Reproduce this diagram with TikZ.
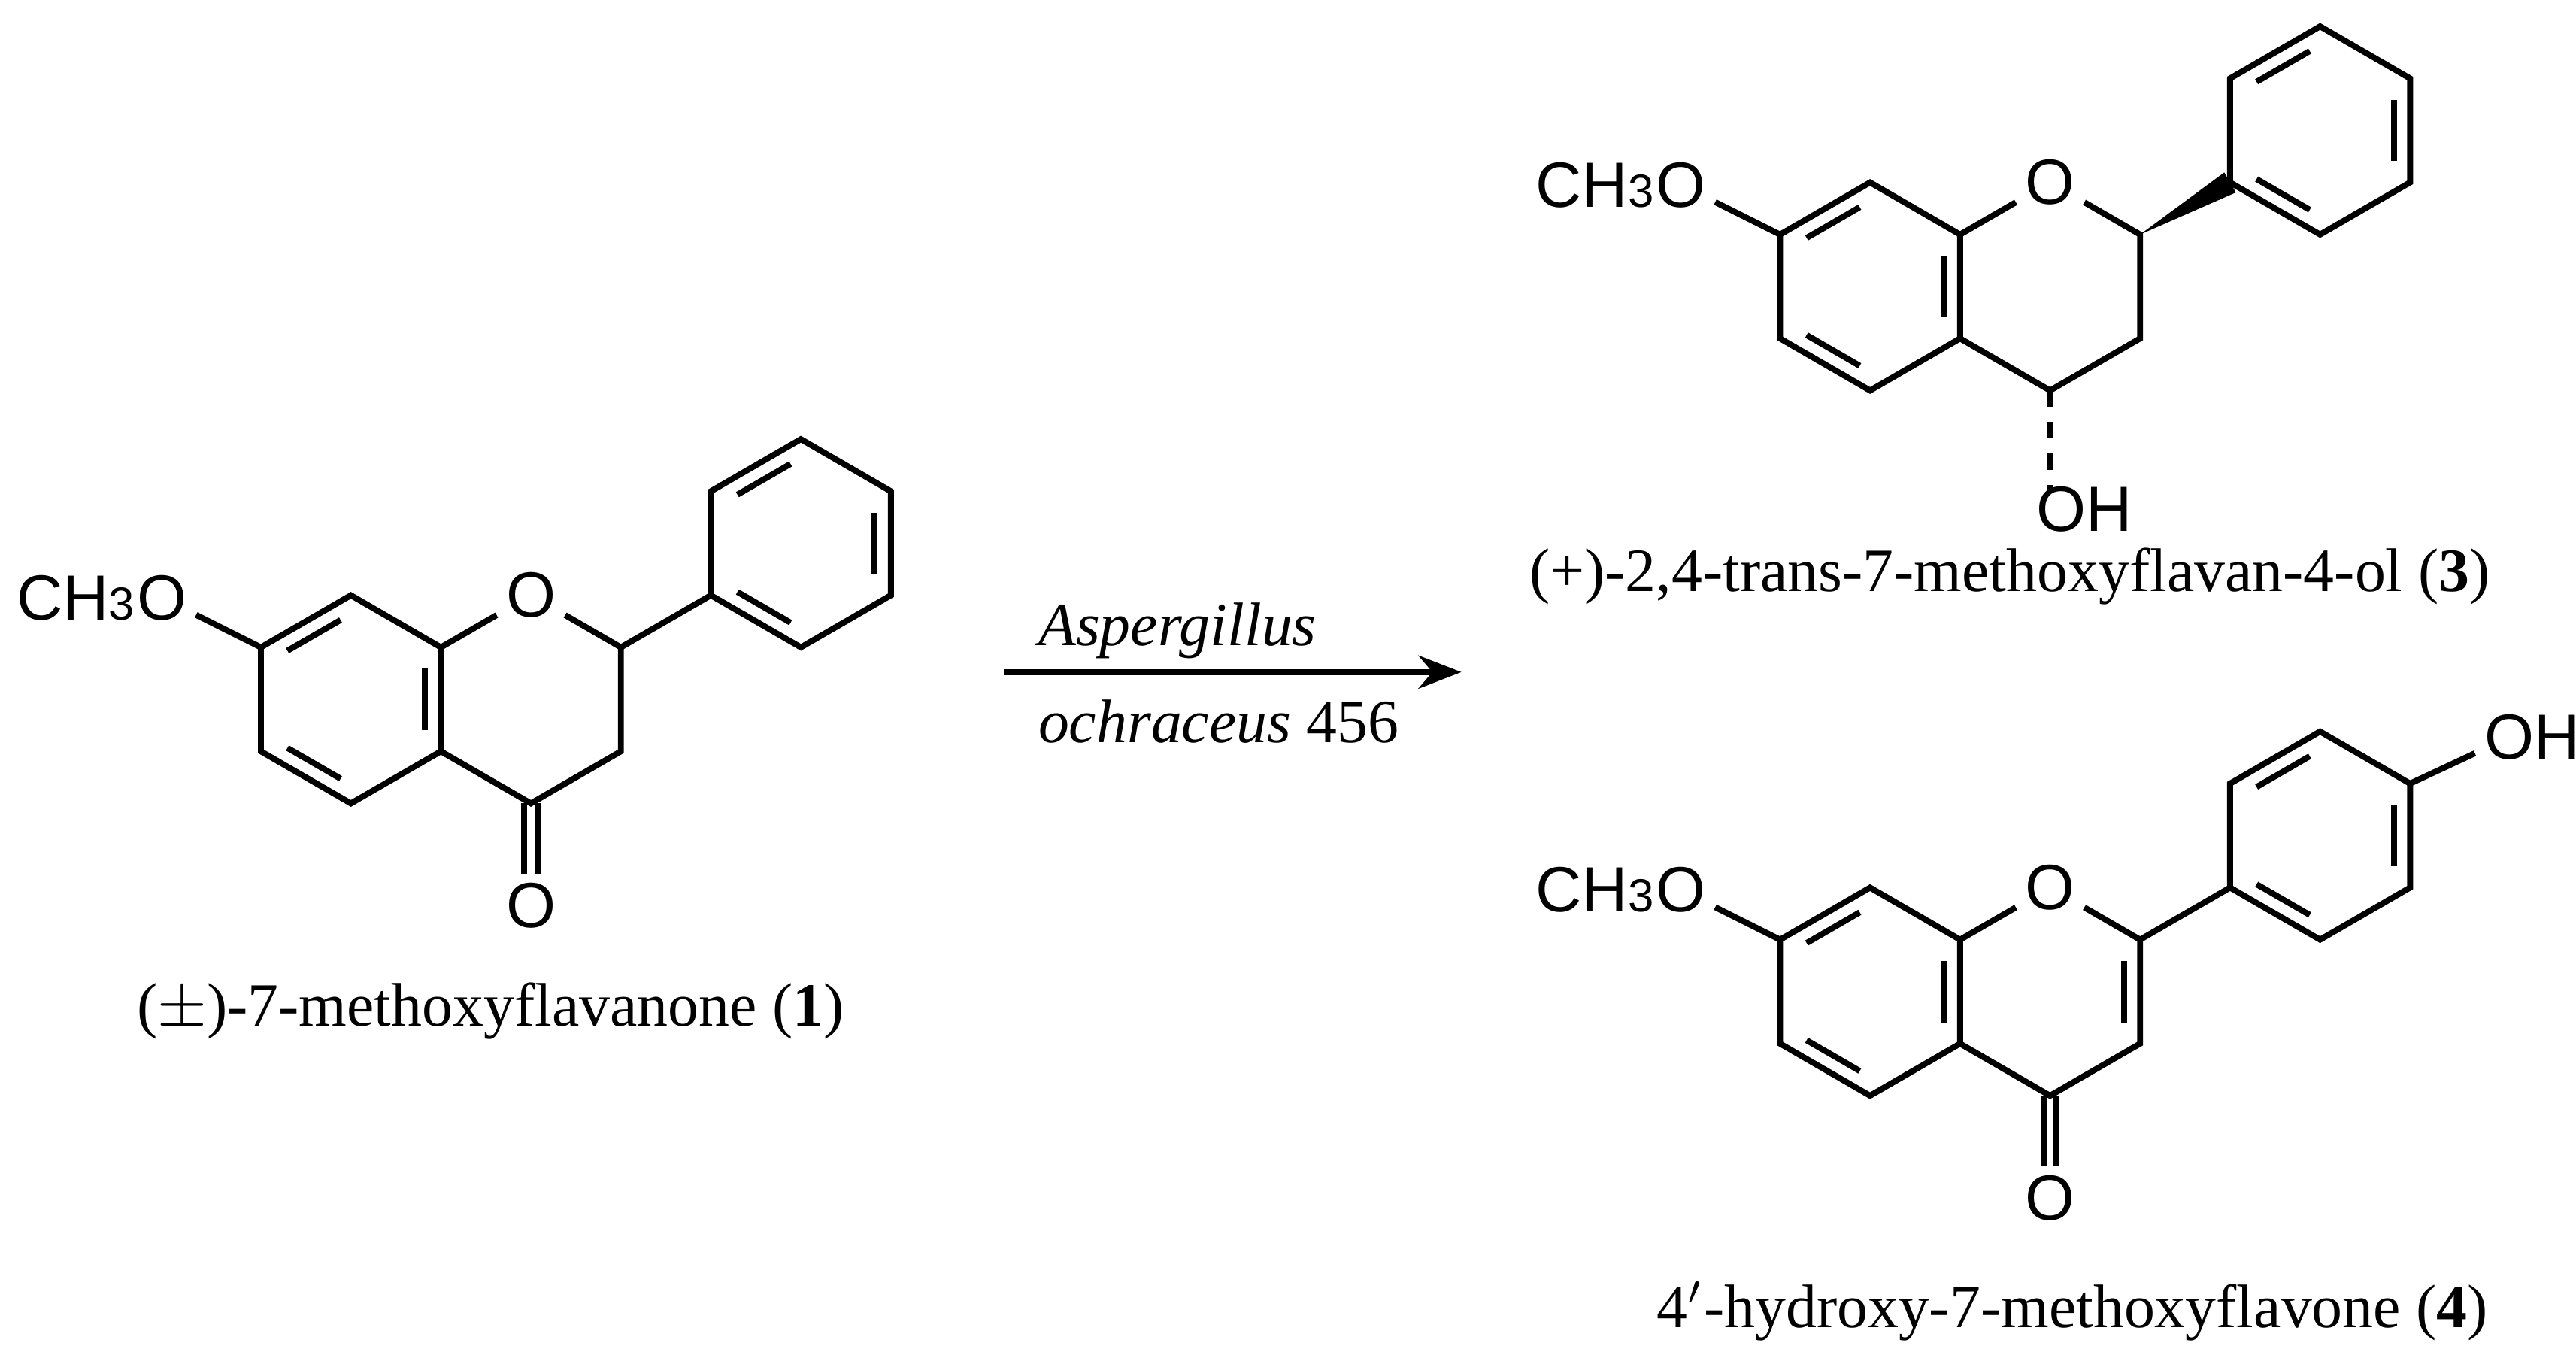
\documentclass[tikz,border=0pt]{standalone}
\usepackage{fontspec}
\setmainfont{Liberation Serif}
\newfontfamily\atomfont{Liberation Sans}
\usetikzlibrary{calc,arrows.meta}

\tikzset{
  bond/.style={line width=0.36mm},
  atom/.style={font=\atomfont\fontsize{11}{13}\selectfont,inner sep=0.5mm},
  caption/.style={font=\fontsize{10.6}{13}\selectfont,inner sep=0pt}
}
% skeleton of the flavan core: prefix, position of C7
\newcommand{\skel}[2]{%
  \begin{scope}[shift={#2}]
    \coordinate (#1c7) at (0,0);
    \coordinate (#1c8) at (54.5,-31.5);
    \coordinate (#1c8a) at (109,0);
    \coordinate (#1c4a) at (109,63);
    \coordinate (#1c5) at (54.5,94.5);
    \coordinate (#1c6) at (0,63);
    \coordinate (#1c2) at (218,0);
    \coordinate (#1c3) at (218,63);
    \coordinate (#1c4) at (163.5,94.5);
    \coordinate (#1p1) at (272.5,-31.5);
    \coordinate (#1p2) at (272.5,-94.5);
    \coordinate (#1p3) at (327,-126);
    \coordinate (#1p4) at (381.5,-94.5);
    \coordinate (#1p5) at (381.5,-31.5);
    \coordinate (#1p6) at (327,0);
    \coordinate (#1ca) at (54.5,31.5);
    \coordinate (#1cb) at (163.5,31.5);
    \coordinate (#1cp) at (327,-63);
    \node[atom] (#1o1) at (163.5,-31.5) {O};
    \node[atom] (#1o7) at (-60,-30) {O};
    \node[atom,anchor=east,inner sep=0pt] (#1me) at ([xshift=0.5mm]#1o7.west) {CH{\footnotesize 3}};
  \end{scope}
  \draw[bond] (#1o7) -- (#1c7);
  \draw[bond] (#1c7) -- (#1c8) -- (#1c8a) -- (#1c4a) -- (#1c5) -- (#1c6) -- cycle;
  \draw[bond] (#1c8a) -- (#1o1) -- (#1c2) -- (#1c3) -- (#1c4) -- (#1c4a);
  \draw[bond] (#1p1) -- (#1p2) -- (#1p3) -- (#1p4) -- (#1p5) -- (#1p6) -- cycle;
  \foreach \u/\v/\m in {c7/c8/ca,c8a/c4a/ca,c5/c6/ca,p2/p3/cp,p4/p5/cp,p6/p1/cp}
    \draw[bond] ($(#1\u)!.18!(#1\m)!.14!($(#1\v)!.18!(#1\m)$)$) -- ($(#1\v)!.18!(#1\m)!.14!($(#1\u)!.18!(#1\m)$)$);
}
\newcommand{\keto}[1]{%
  \node[atom] (#1ok) at ($(#1c4)+(0,62)$) {O};
  \draw[bond] ([xshift=-0.4mm]#1c4) -- ([xshift=-0.4mm]#1ok.north);
  \draw[bond] ([xshift=0.4mm]#1c4) -- ([xshift=0.4mm]#1ok.north);
}

\begin{document}
\begin{tikzpicture}[x=0.1mm,y=-0.1mm]
\useasboundingbox (0,0) rectangle (1560,826);

% (1)
\skel{a}{(158,392)}
\draw[bond] (ac2) -- (ap1);
\keto{a}
\node[caption] (cap1) at (297,612) {($\pm$)-7-methoxyflavanone (\textbf{1})};

% reaction arrow
\coordinate (arrs) at (608,407);
\coordinate (arre) at (885,407);
\draw[bond,-{Stealth[length=2.6mm,width=2mm]}] (arrs) -- (arre);
\node[caption] (cond1) at (713,382) {\textit{Aspergillus}};
\node[caption] (cond2) at (738,437) {\textit{ochraceus} 456};

% (3)
\skel{b}{(1078,142)}
\fill ($(bp1)!0.7mm!90:(bc2)$) -- (bc2) -- ($(bp1)!0.7mm!-90:(bc2)$) -- cycle;
\node[atom,anchor=west,inner sep=0pt] (boh) at ($(bc4)+(-9,72)$) {OH};
\coordinate (bo4) at ($(bc4)+(0,60)$);
\draw[bond,dash pattern=on 1mm off 0.9mm] (bc4) -- (bo4);
\node[caption] (cap3) at (1217,349) {(+)-2,4-trans-7-methoxyflavan-4-ol (\textbf{3})};

% (4)
\skel{c}{(1078,569)}
\draw[bond] (cc2) -- (cp1);
\draw[bond] ($(cc2)!.18!(ccb)!.14!($(cc3)!.18!(ccb)$)$) -- ($(cc3)!.18!(ccb)!.14!($(cc2)!.18!(ccb)$)$);
\keto{c}
\node[atom] (coh) at ($(cp4)+(60,-28)$) {O\rlap{H}};
\draw[bond] (cp4) -- (coh);
\node[caption] (cap4) at (1255,794) {4$'$-hydroxy-7-methoxyflavone (\textbf{4})};
\end{tikzpicture}
\end{document}
